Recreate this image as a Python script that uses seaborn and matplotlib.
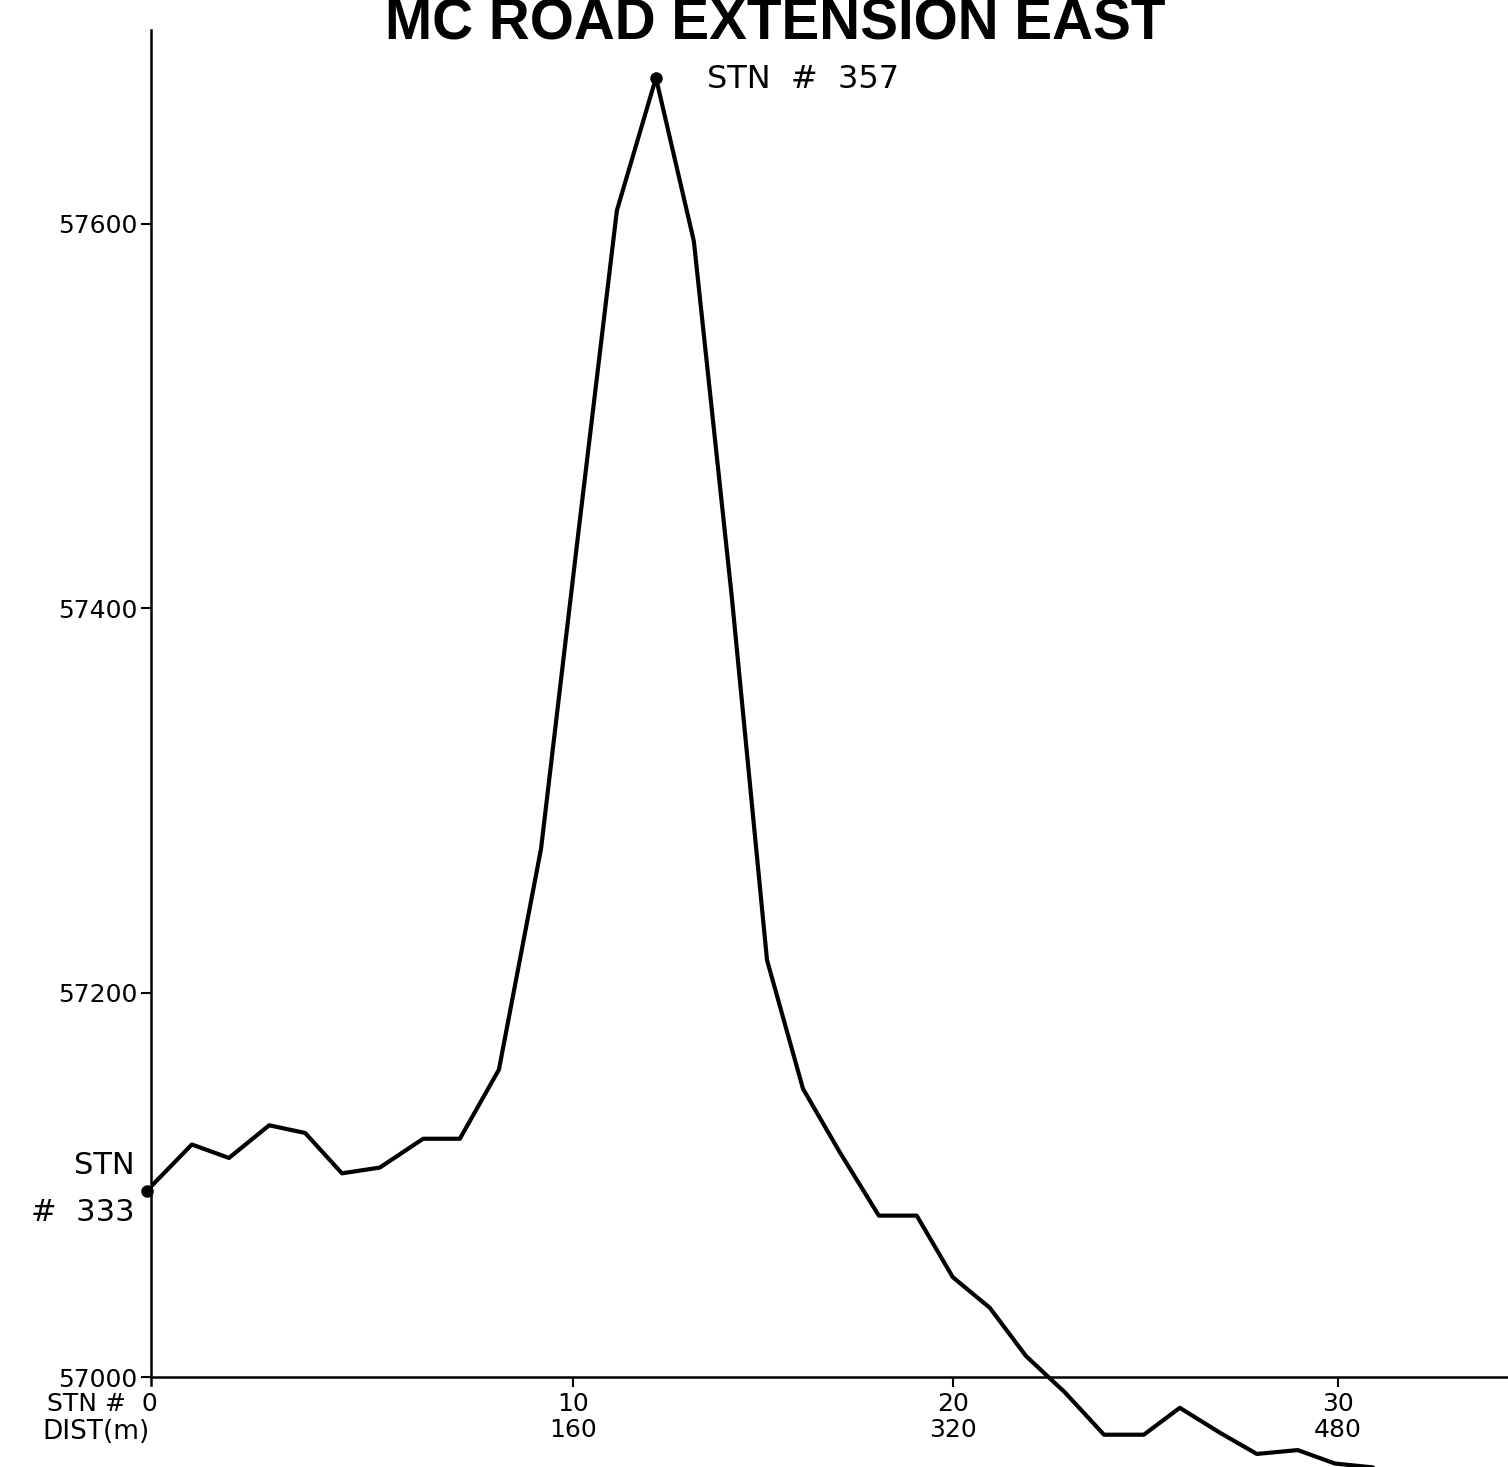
import matplotlib
matplotlib.use("Agg")
import matplotlib.pyplot as plt
import seaborn as sns
import pandas as pd

# ---- data ----
# station positions as drawn along the x axis (axis units) and gravity readings
station_pos = [0.00, 1.17, 2.14, 3.19, 4.13, 5.09, 6.08, 7.21, 8.17, 9.19,
               10.29, 11.25, 12.27, 13.29, 14.28, 15.27, 16.19, 17.13, 18.09, 19.11,
               20.10, 21.04, 22.01, 22.95, 23.97, 24.99, 26.03, 26.97, 28.02, 28.98,
               30.05, 31.02, 32.01]
gravity = [57097, 57121, 57114, 57131, 57127, 57106, 57109, 57124, 57124, 57160,
           57275, 57437, 57607, 57676, 57591, 57406, 57217, 57150, 57117, 57084,
           57084, 57052, 57036, 57011, 56992, 56970, 56970, 56984, 56971, 56960,
           56962, 56955, 56953]
xtick_pos = [11.12, 21.04, 31.1]
xtick_stn = ["10", "20", "30"]
xtick_dist = ["160", "320", "480"]
ytick_vals = [57000, 57200, 57400, 57600]
title_text = "MC ROAD EXTENSION EAST"
start_label_top = "STN"
start_label_bottom = "#  333"
peak_label = "STN  #  357"

df = pd.DataFrame({"station": station_pos, "gravity": gravity})

sns.set_theme(style="white")
plt.rcParams["font.family"] = ["DejaVu Sans"]
plt.rcParams["text.color"] = "black"
plt.rcParams["xtick.color"] = "black"
plt.rcParams["ytick.color"] = "black"

W, H = 1508, 1467
fig = plt.figure(figsize=(W / 100, H / 100), dpi=100)
ax = fig.add_axes([151 / W, 0, 1 - 151 / W, 1437 / H])

sns.lineplot(data=df, x="station", y="gravity", ax=ax, color="black",
             linewidth=3.0, sort=False, estimator=None)

# end-point dots (start and peak)
ends = df.iloc[[0, int(df["gravity"].idxmax())]]
ax.plot(ends["station"], ends["gravity"], "o", color="black", ms=8, clip_on=False)

ax.set_xlim(0.104, 35.54)
ax.set_ylim(56953.2, 57700.9)

for s in ["top", "right"]:
    ax.spines[s].set_visible(False)
ax.spines["bottom"].set_position(("data", 57000))
ax.spines["left"].set_bounds(56996, 57700.9)
for s in ["bottom", "left"]:
    ax.spines[s].set_color("black")
    ax.spines[s].set_linewidth(1.8)

ax.set_xlabel("")
ax.set_ylabel("")
ax.set_yticks(ytick_vals)
ax.set_yticklabels([str(v) for v in ytick_vals], fontsize=18)
ax.set_xticks(xtick_pos)
ax.set_xticklabels([f"{a}\n{b}" for a, b in zip(xtick_stn, xtick_dist)],
                   fontsize=18, linespacing=1.1)
ax.tick_params(axis="y", direction="out", length=7, width=1.5, pad=3,
               colors="black", left=True)
ax.tick_params(axis="x", direction="out", length=7, width=1.5, pad=4,
               colors="black", bottom=True)
ax.grid(False)

# axis captions at the origin
fig.text(158 / W, 1 - 1404 / H, "STN #  0", ha="right", va="center", fontsize=18)
fig.text(42 / W, 1 - 1432 / H, "DIST(m)", ha="left", va="center", fontsize=19)

# station annotations
x0, y0 = df["station"].iloc[0], df["gravity"].iloc[0]
ax.annotate(start_label_top, xy=(x0, y0), xytext=(-9, 18), textcoords="offset points",
            ha="right", va="center", fontsize=22, annotation_clip=False)
ax.annotate(start_label_bottom, xy=(x0, y0), xytext=(-9, -16), textcoords="offset points",
            ha="right", va="center", fontsize=22, annotation_clip=False)
pk = df.loc[df["gravity"].idxmax()]
ax.annotate(peak_label, xy=(pk["station"], pk["gravity"]), xytext=(37, -7),
            textcoords="offset points", ha="left", va="baseline", fontsize=23,
            annotation_clip=False)

# title, sized to the reference width
t = fig.text(775 / W, 1 - 40 / H, title_text, ha="center", va="baseline",
             fontsize=40, fontweight="bold", family="Liberation Sans", color="black")
fig.canvas.draw()
bb = t.get_window_extent(renderer=fig.canvas.get_renderer())
t.set_fontsize(40 * 780 / bb.width)

fig.savefig("out.png", dpi=100, facecolor="white")
